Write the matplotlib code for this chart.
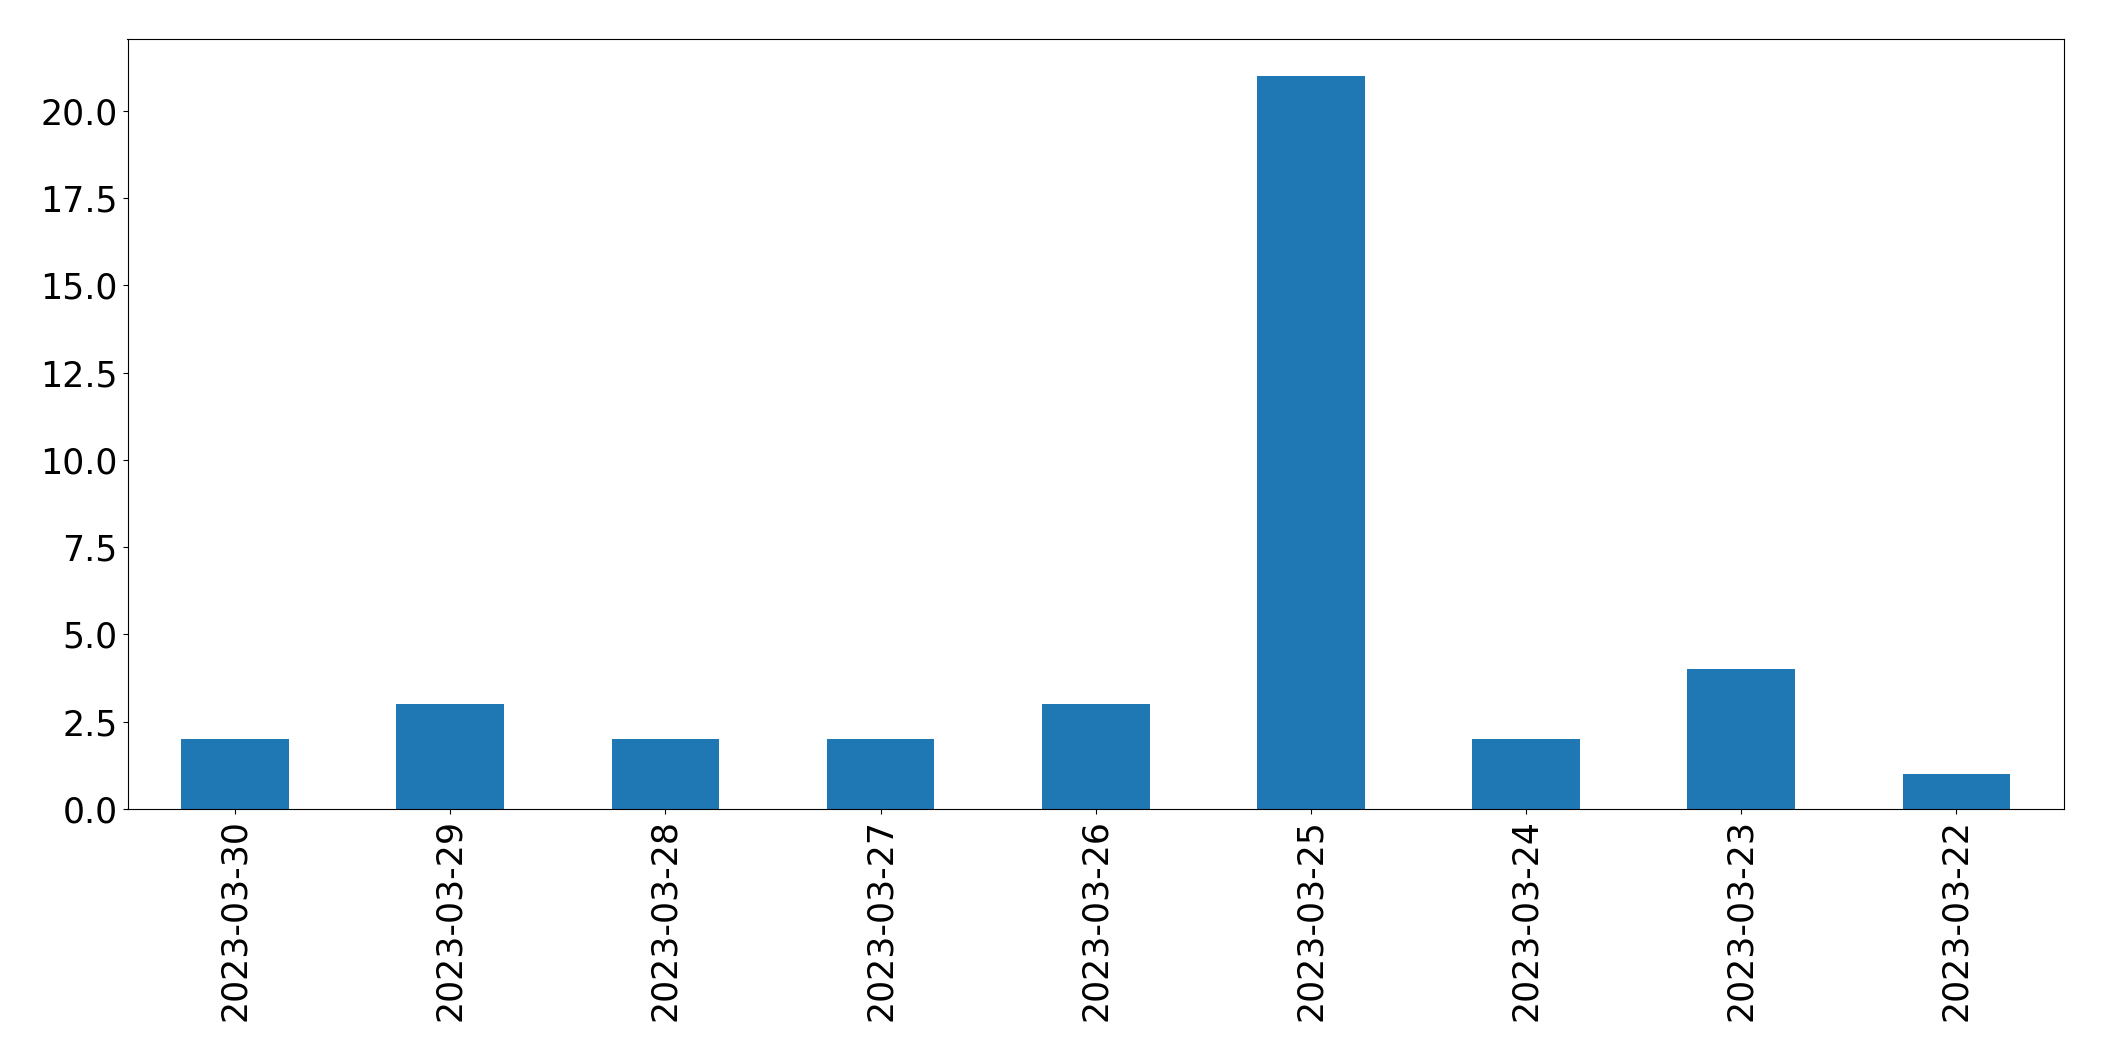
import matplotlib
matplotlib.use("Agg")
import matplotlib.pyplot as plt

dates = ["2023-03-30", "2023-03-29", "2023-03-28", "2023-03-27", "2023-03-26",
         "2023-03-25", "2023-03-24", "2023-03-23", "2023-03-22"]
counts = [2, 3, 2, 2, 3, 21, 2, 4, 1]

fig = plt.figure(figsize=(21.04, 10.61), dpi=100)
ax = fig.add_axes([127.5 / 2104, (1061 - 809) / 1061, (2064 - 127.5) / 2104, (809 - 39.3) / 1061])
x = list(range(len(dates)))
ax.bar(x, counts, width=0.5, color="#1f77b4")
ax.set_xlim(-0.5, len(dates) - 0.5)
ax.set_ylim(0, max(counts) * 1.05)
ax.set_xticks(x)
ax.set_xticklabels(dates, rotation=90)
ax.set_yticks([0, 2.5, 5, 7.5, 10, 12.5, 15, 17.5, 20])
ax.set_yticklabels(["0.0", "2.5", "5.0", "7.5", "10.0", "12.5", "15.0", "17.5", "20.0"])
ax.tick_params(labelsize=25)
fig.savefig("out.png", dpi=100)
